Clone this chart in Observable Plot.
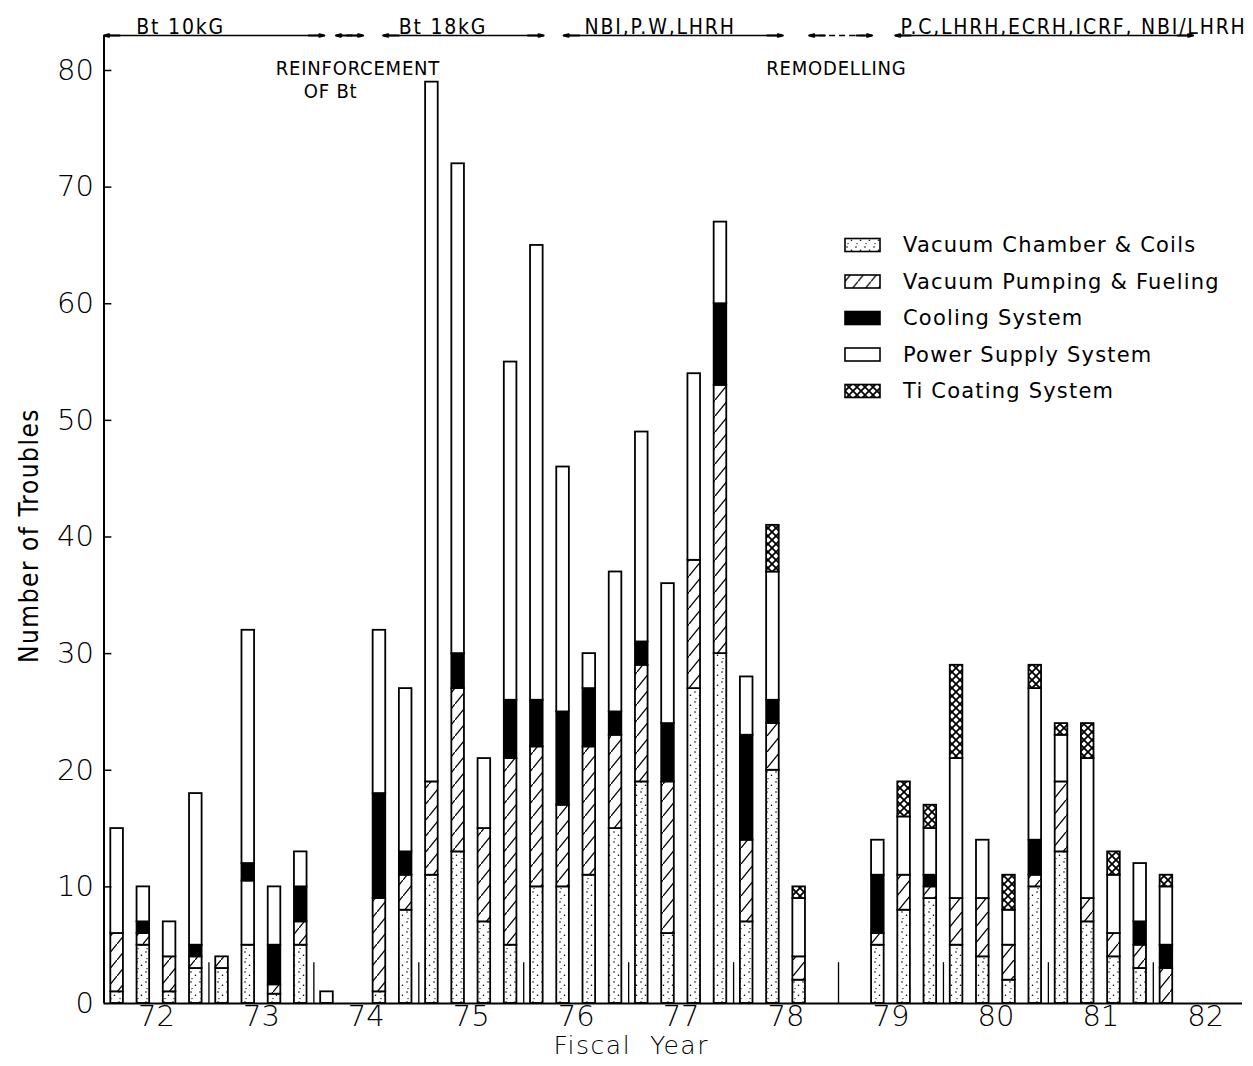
<!DOCTYPE html>
<html>
<head>
<meta charset="utf-8">
<script src="https://cdn.jsdelivr.net/npm/d3@7"></script>
<script src="https://cdn.jsdelivr.net/npm/@observablehq/plot@0.6"></script>
<style>
  html, body { margin: 0; padding: 0; background: #fff; }
  #chart { position: relative; width: 1253px; height: 1066px; }
</style>
</head>
<body>
<svg width="0" height="0" style="position:absolute">
  <defs>
    <pattern id="pDots" patternUnits="userSpaceOnUse" width="9" height="10">
      <rect width="9" height="10" fill="#fff"/>
      <circle cx="2" cy="2" r="0.8" fill="#000"/>
      <circle cx="6.5" cy="5.2" r="0.8" fill="#000"/>
      <circle cx="3" cy="8.6" r="0.7" fill="#000"/>
    </pattern>
    <pattern id="pHatch" patternUnits="userSpaceOnUse" width="13" height="16">
      <rect width="13" height="16" fill="#fff"/>
      <line x1="0" y1="16" x2="13" y2="0" stroke="#000" stroke-width="1.3"/>
    </pattern>
    <pattern id="pCross" patternUnits="userSpaceOnUse" width="8" height="8">
      <rect width="8" height="8" fill="#fff"/>
      <path d="M0,0L8,8M8,0L0,8" stroke="#000" stroke-width="1.8"/>
    </pattern>
  </defs>
</svg>
<div id="chart"></div>
<script>
// ---------------- DATA ----------------
const categories = [
  "Vacuum Chamber & Coils",
  "Vacuum Pumping & Fueling",
  "Cooling System",
  "Power Supply System",
  "Ti Coating System"
];
// bar positions on the fiscal-year axis (quarters)
const periods = [
  71.625, 71.875, 72.125, 72.375, 72.625, 72.875, 73.125, 73.375, 73.625,
  74.125, 74.375, 74.625, 74.875, 75.125, 75.375, 75.625, 75.875,
  76.125, 76.375, 76.625, 76.875, 77.125, 77.375, 77.625, 77.875, 78.125,
  78.875, 79.125, 79.375, 79.625, 79.875, 80.125, 80.375, 80.625, 80.875,
  81.125, 81.375, 81.625
];
const vacuumChamber = [1, 5, 1, 3, 3, 5, 0.8, 5, 0,
  1, 8, 11, 13, 7, 5, 10, 10,
  11, 15, 19, 6, 27, 30, 7, 20, 2,
  5, 8, 9, 5, 4, 2, 10, 13, 7,
  4, 3, 0];
const vacuumPumping = [5, 1, 3, 1, 1, 0, 0.8, 2, 0,
  8, 3, 8, 14, 8, 16, 12, 7,
  11, 8, 10, 13, 11, 23, 7, 4, 2,
  1, 3, 1, 4, 5, 3, 1, 6, 2,
  2, 2, 3];
// power-supply part drawn below the cooling part (one bar in FY72)
const powerSupplyBelowCooling = [0, 0, 0, 0, 0, 5.5, 0, 0, 0,
  0, 0, 0, 0, 0, 0, 0, 0,
  0, 0, 0, 0, 0, 0, 0, 0, 0,
  0, 0, 0, 0, 0, 0, 0, 0, 0,
  0, 0, 0];
const cooling = [0, 1, 0, 1, 0, 1.5, 3.4, 3, 0,
  9, 2, 0, 3, 0, 5, 4, 8,
  5, 2, 2, 5, 0, 7, 9, 2, 0,
  5, 0, 1, 0, 0, 0, 3, 0, 0,
  0, 2, 2];
const powerSupply = [9, 3, 3, 13, 0, 20, 5, 3, 1,
  14, 14, 60, 42, 6, 29, 39, 21,
  3, 12, 18, 12, 16, 7, 5, 11, 5,
  3, 5, 4, 12, 5, 3, 13, 4, 12,
  5, 5, 5];
const tiCoating = [0, 0, 0, 0, 0, 0, 0, 0, 0,
  0, 0, 0, 0, 0, 0, 0, 0,
  0, 0, 0, 0, 0, 0, 0, 4, 1,
  0, 3, 2, 8, 0, 3, 2, 1, 3,
  2, 0, 1];

const yearTicks = [72, 73, 74, 75, 76, 77, 78, 79, 80, 81, 82];
const yTicks = [0, 10, 20, 30, 40, 50, 60, 70, 80];
const halfYearMarks = [72.5, 73.5, 74.5, 75.5, 76.5, 77.5, 78.5, 79.5, 80.5, 81.5];
const markerHeight = 3.5;

// periods of operation (top of the chart)
const eraLabels = ["Bt 10kG", "Bt 18kG", "NBI,P.W,LHRH", "P.C,LHRH,ECRH,ICRF, NBI/LHRH"];
const eraLabelAt = [72.23, 74.73, 76.8, 80.74];
const eraStart = [71.5, 74.16, 75.88, 79.04];
const eraEnd = [73.6, 75.69, 77.97, 81.88];
const breakLabels = ["REINFORCEMENT", "REMODELLING"];
const breakLabelAt = [73.92, 78.48];
const breakSubLabels = ["OF Bt"];
const breakSubLabelAt = [73.66];
const breakStart = [73.71, 78.22];
const breakEnd = [73.97, 78.82];

// ---------------- BUILD ----------------
const fills = {
  "Vacuum Chamber & Coils": "url(#pDots)",
  "Vacuum Pumping & Fueling": "url(#pHatch)",
  "Cooling System": "#000",
  "Power Supply System": "#fff",
  "Ti Coating System": "url(#pCross)"
};
const stackSeries = [
  [categories[0], vacuumChamber],
  [categories[1], vacuumPumping],
  [categories[3], powerSupplyBelowCooling],
  [categories[2], cooling],
  [categories[3], powerSupply],
  [categories[4], tiCoating]
];
const barHalf = 0.06;
const rows = [];
periods.forEach((p, i) => {
  let cum = 0;
  for (const [name, vals] of stackSeries) {
    const v = vals[i];
    if (v > 0) {
      rows.push({x1: p - barHalf, x2: p + barHalf, y1: cum, y2: cum + v, category: name});
      cum += v;
    }
  }
});

const yTop = 83;
const eras = eraStart.map((s, i) => ({start: s, end: eraEnd[i]}));
const breaks = breakStart.map((s, i) => ({start: s, end: breakEnd[i]}));
const heads = [...eras, ...breaks].flatMap(e => [
  {x1: e.start + 0.15, x2: e.start},
  {x1: e.end - 0.15, x2: e.end}
]);
const condensed = "'DejaVu Sans Condensed', 'DejaVu Sans', sans-serif";

const plot = Plot.plot({
  width: 1253,
  height: 1066,
  marginLeft: 103.5,
  marginRight: 11,
  marginTop: 35,
  marginBottom: 63,
  x: {domain: [71.5, 82.35], axis: null},
  y: {domain: [0, yTop], axis: null},
  color: {type: "identity"},
  style: {fontFamily: "'DejaVu Sans', sans-serif", background: "#fff", color: "#000", overflow: "visible"},
  marks: [
    Plot.ruleX(halfYearMarks, {x: d => d, y1: 0, y2: markerHeight, strokeWidth: 1.3}),
    Plot.rect(rows, {x1: "x1", x2: "x2", y1: "y1", y2: "y2", fill: d => fills[d.category], stroke: "#000", strokeWidth: 1.8}),
    Plot.ruleY([0], {strokeWidth: 2}),
    Plot.ruleX([71.5], {strokeWidth: 2}),
    Plot.ruleY(yTicks.filter(d => d > 0), {y: d => d, x1: 71.5, x2: 71.575, strokeWidth: 1.5}),
    Plot.text(yTicks, {y: d => d, text: d => String(d), frameAnchor: "left", dx: -10, textAnchor: "end", fontSize: 29, fontWeight: 300, fill: "#000"}),
    Plot.text(yearTicks, {x: d => d, text: d => String(d), frameAnchor: "bottom", dy: 22, fontSize: 29, fontWeight: 300, fill: "#000"}),
    Plot.text(["Fiscal  Year"], {frameAnchor: "bottom", dx: -42, dy: 50, fontSize: 25, fontWeight: 300, fill: "#000"}),
    Plot.text(["Number of Troubles"], {frameAnchor: "left", textAnchor: "middle", dx: -74, dy: 16, rotate: -90, fontSize: 26, fontWeight: 300, fontFamily: condensed, fill: "#000"}),
    // top annotation line
    Plot.link(eras, {x1: "start", x2: "end", y1: yTop, y2: yTop, strokeWidth: 1.6}),
    Plot.link(breaks.slice(0, 1), {x1: "start", x2: "end", y1: yTop, y2: yTop, strokeWidth: 1.4, strokeDasharray: "7,3,2,3"}),
    Plot.link(breaks.slice(1), {x1: "start", x2: "end", y1: yTop, y2: yTop, strokeWidth: 1.4, strokeDasharray: "6,4"}),
    Plot.arrow(heads, {x1: "x1", x2: "x2", y1: yTop, y2: yTop, headLength: 16, headAngle: 28, strokeWidth: 2}),
    Plot.text(eraLabels, {x: (d, i) => eraLabelAt[i], text: d => d, frameAnchor: "top", dy: -16, fontSize: 21, fontFamily: condensed}),
    Plot.text(breakLabels, {x: (d, i) => breakLabelAt[i], text: d => d, frameAnchor: "top", dy: 25, fontSize: 20, fontFamily: condensed}),
    Plot.text(breakSubLabels, {x: (d, i) => breakSubLabelAt[i], text: d => d, frameAnchor: "top", dy: 48, fontSize: 20, fontFamily: condensed})
  ]
});

document.getElementById("chart").appendChild(plot);

// typographic spacing of the labels (as in the reference lettering)
const spacing = new Map([
  ...eraLabels.map(t => [t, "1.8px"]),
  ...breakLabels.map(t => [t, "0.8px"]),
  ...breakSubLabels.map(t => [t, "0.8px"]),
  ["Fiscal  Year", "1.5px"],
  ["Number of Troubles", "1.5px"]
]);
d3.select(plot).selectAll("text").each(function () {
  const s = spacing.get(this.textContent);
  if (s) this.setAttribute("letter-spacing", s);
});

// legend inside the plot area
const svg = d3.select(plot);
const lg = svg.append("g").attr("transform", "translate(845,245)");
categories.forEach((c, i) => {
  const g = lg.append("g").attr("transform", `translate(0,${i * 36.5})`);
  g.append("rect").attr("x", 0).attr("y", -6.5).attr("width", 35).attr("height", 13)
    .attr("fill", fills[c]).attr("stroke", "#000").attr("stroke-width", 1.6);
  g.append("text").attr("x", 58).attr("y", 0).attr("dy", "0.35em")
    .attr("text-anchor", "start").attr("fill", "#000")
    .attr("font-family", "'DejaVu Sans', sans-serif").attr("font-size", 21)
    .attr("letter-spacing", "1.2px").text(c);
});
</script>
</body>
</html>
